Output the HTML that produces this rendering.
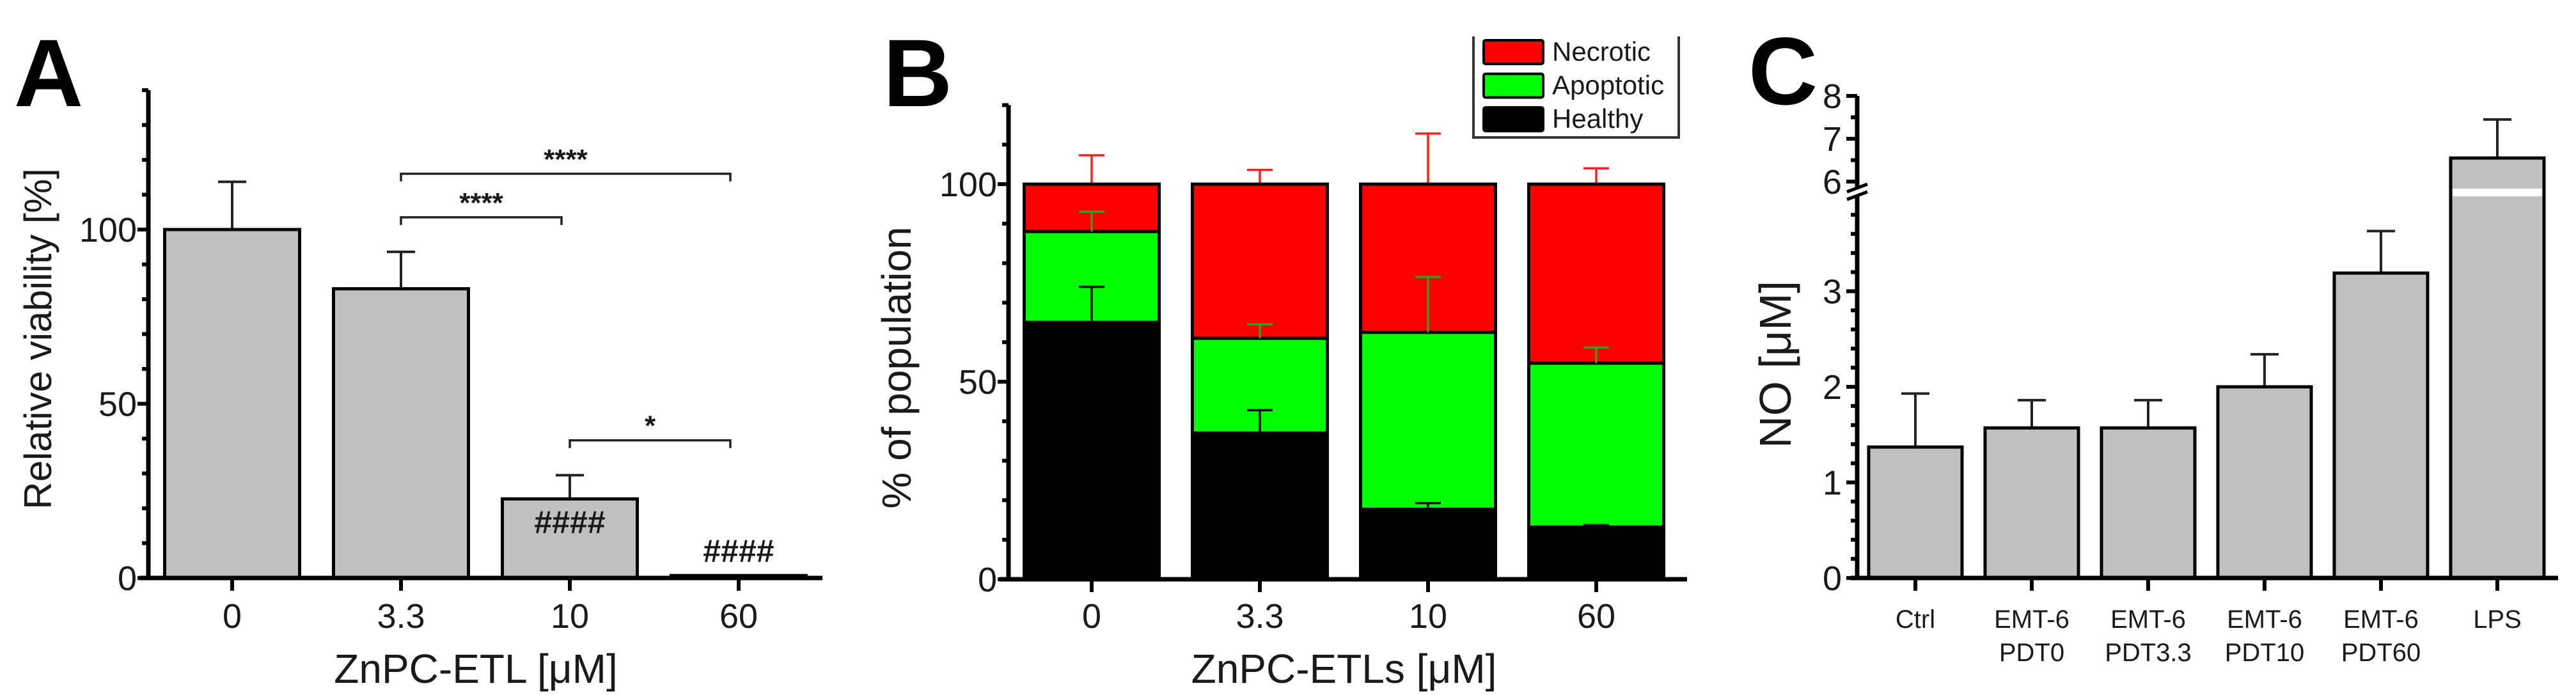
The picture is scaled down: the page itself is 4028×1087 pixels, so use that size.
<!DOCTYPE html>
<html><head><meta charset="utf-8"><style>
html,body{margin:0;padding:0;background:#fff;}
svg{display:block;font-family:"Liberation Sans",Arial,sans-serif;}
</style></head><body>
<svg id="fig" width="4028" height="1087" viewBox="0 0 4028 1087" xmlns="http://www.w3.org/2000/svg"></svg>
<script>
// Panel A data
const catsA = ["0","3.3","10","60"];
const valsA = [100, 83, 22.7, 0.7];
const errA = [13.7, 10.6, 6.8, 0];
const ticksA = [0, 50, 100];
// Panel B data
const catsB = ["0","3.3","10","60"];
const healthyB = [65, 37, 17.7, 13.2];
const apoptoticB = [23, 24, 44.8, 41.5];
const necroticB = [12, 39, 37.5, 45.3];
const errHealthyB = [9, 5.8, 1.6, 0.5];
const errApoB = [5, 3.5, 14, 4];
const errNecB = [7.3, 3.6, 12.8, 4];
const ticksB = [0, 50, 100];
const legendB = ["Necrotic","Apoptotic","Healthy"];
// Panel C data
const catsC = [["Ctrl"],["EMT-6","PDT0"],["EMT-6","PDT3.3"],["EMT-6","PDT10"],["EMT-6","PDT60"],["LPS"]];
const valsC = [1.37, 1.57, 1.57, 2.0, 3.19, 6.55];
const errC = [0.56, 0.29, 0.29, 0.34, 0.44, 0.9];
const ticksCLow = [0, 1, 2, 3];
const ticksCHigh = [6, 7, 8];

const svg = document.getElementById('fig');
const NS = 'http://www.w3.org/2000/svg';
function mk(tag, attrs, name, parent){
  const e = document.createElementNS(NS, tag);
  for (const k in attrs) e.setAttribute(k, attrs[k]);
  
  
  (parent||svg).appendChild(e);
  return e;
}
function line(x1,y1,x2,y2,w,c,name,p){return mk('line',{x1,y1,x2,y2,stroke:c||'#000','stroke-width':w},name,p);}
function text(x,y,s,size,name,opts,p){
  opts=opts||{};
  const t=mk('text',{x,y,'font-size':size,fill:opts.fill||'#1a1a1a','text-anchor':opts.anchor||'middle','font-weight':opts.weight||'normal'},name,p);
  if(opts.transform) t.setAttribute('transform',opts.transform);
  t.textContent=s;return t;
}

// ---------- Panel A ----------
(function(){
  const g = mk('g',{},'panel-a');
  const x0=232, yBase=904, ppu=5.45, ymax=140;
  const y = v => yBase - v*ppu;
  const xc = i => 363 + i*264;
  const bw = 211;
  text(76,166,'A',150,'panel-a-label',{weight:'bold',fill:'#000'},g);
  valsA.forEach((v,i)=>{
    const t = y(v+errA[i]);
    if(errA[i]>0){
      line(xc(i),y(v),xc(i),t,4,'#222','error-bar-a-'+i,g);
      line(xc(i)-22,t,xc(i)+22,t,4,'#222','error-cap-a-'+i,g);
    }
    mk('rect',{x:xc(i)-bw/2,y:y(v),width:bw,height:v*ppu,fill:'#c0c0c0',stroke:'#000','stroke-width':5},'bar-a-'+catsA[i],g);
  });
  line(x0,y(ymax),x0,yBase+3,7,'#000','y-axis-a',g);
  line(218,yBase,1286,yBase,7,'#000','x-axis-a',g);
  for(let v=0;v<=ymax;v+=10){
    const major = ticksA.includes(v);
    line(x0-(major?17:10),y(v),x0,y(v),6,'#000','y-tick-a',g);
  }
  ticksA.forEach(v=>text(214,y(v)+19,String(v),54,'y-tick-label-a',{anchor:'end'},g));
  catsA.forEach((c,i)=>{
    line(xc(i),yBase,xc(i),yBase+20,6,'#000','x-tick-a',g);
    text(xc(i),982,c,54,'x-tick-label-a',{},g);
  });
  text(xc(1.5)-15,1068,'ZnPC-ETL [\u03bcM]',64,'x-axis-title-a',{},g);
  text(0,0,'Relative viability [%]',60,'y-axis-title-a',{transform:'translate(80,530) rotate(-90)'},g);
  function bracket(i1,i2,yv,label,name){
    const yy=y(yv);
    mk('path',{d:`M${xc(i1)},${yy+12} V${yy} H${xc(i2)-13} V${yy+12}`,fill:'none',stroke:'#222','stroke-width':3.5},name,g);
    text((xc(i1)+xc(i2)-13)/2,yy-8,label,44,name+'-label',{weight:'bold'},g);
  }
  bracket(1,3,116,'****','bracket-3.3-60');
  bracket(1,2,103.5,'****','bracket-3.3-10');
  bracket(2,3,39.5,'*','bracket-10-60');
  text(xc(2),834,'####',50,'hash-label-10',{weight:'bold'},g);
  text(xc(3),879,'####',50,'hash-label-60',{weight:'bold'},g);
})();

// ---------- Panel B ----------
(function(){
  const g = mk('g',{},'panel-b');
  const x0=1577, yBase=906, ppu=6.18, ymax=120;
  const y = v => yBase - v*ppu;
  const xc = i => 1707 + i*263;
  const bw = 211;
  text(1435,166,'B',150,'panel-b-label',{weight:'bold',fill:'#000'},g);
  catsB.forEach((c,i)=>{
    const h=healthyB[i], a=apoptoticB[i], n=necroticB[i];
    const t1=h, t2=h+a, t3=h+a+n;
    const eb=(top,e,col,name)=>{
      line(xc(i),y(top),xc(i),y(top+e),3.5,col,name,g);
      line(xc(i)-20,y(top+e),xc(i)+20,y(top+e),3.5,col,name+'-cap',g);
    };
    eb(t3,errNecB[i],'#ff2020','error-necrotic-'+c);
    mk('rect',{x:xc(i)-bw/2,y:y(t3),width:bw,height:n*ppu,fill:'#ff0000',stroke:'#000','stroke-width':5},'bar-necrotic-'+c,g);
    mk('rect',{x:xc(i)-bw/2,y:y(t2),width:bw,height:a*ppu,fill:'#00ff00',stroke:'#000','stroke-width':5},'bar-apoptotic-'+c,g);
    eb(t2,errApoB[i],'#3a9a20','error-apoptotic-'+c);
    mk('rect',{x:xc(i)-bw/2,y:y(t1),width:bw,height:h*ppu,fill:'#000',stroke:'#000','stroke-width':5},'bar-healthy-'+c,g);
    eb(t1,errHealthyB[i],'#000','error-healthy-'+c);
  });
  line(x0,y(ymax),x0,yBase+3,7,'#000','y-axis-b',g);
  line(1563,yBase,2638,yBase,7,'#000','x-axis-b',g);
  for(let v=0;v<=ymax;v+=10){
    const major=ticksB.includes(v);
    line(x0-(major?17:10),y(v),x0,y(v),6,'#000','y-tick-b',g);
  }
  ticksB.forEach(v=>text(1559,y(v)+19,String(v),54,'y-tick-label-b',{anchor:'end'},g));
  catsB.forEach((c,i)=>{
    line(xc(i),yBase,xc(i),yBase+20,6,'#000','x-tick-b',g);
    text(xc(i),982,c,54,'x-tick-label-b',{},g);
  });
  text(xc(1.5),1068,'ZnPC-ETLs [\u03bcM]',64,'x-axis-title-b',{},g);
  text(0,0,'% of population',64,'y-axis-title-b',{transform:'translate(1424,575) rotate(-90)'},g);
  const lg=mk('g',{},'legend-b',g);
  mk('path',{d:'M2304,57 V215 H2625 V57',fill:'none',stroke:'#333','stroke-width':4},'legend-box',lg);
  const cols=['#ff0000','#00ff00','#000'];
  legendB.forEach((s,i)=>{
    const ry=63+i*52.5;
    mk('rect',{x:2320,y:ry,width:93,height:37,fill:cols[i],stroke:'#000','stroke-width':4,rx:3},'legend-swatch-'+s.toLowerCase(),lg);
    text(2427,ry+32,s,42,'legend-label-'+s.toLowerCase(),{anchor:'start'},lg);
  });
})();

// ---------- Panel C ----------
(function(){
  const g = mk('g',{},'panel-c');
  const x0=2904, yBase=904, ppuLow=149.5;
  const yTop6=284, ppuHigh=67;
  const y = v => v<=4 ? yBase - v*ppuLow : yTop6 - (v-6)*ppuHigh;
  const xc = i => 2995 + i*182;
  const bw = 146;
  text(2788,163,'C',150,'panel-c-label',{weight:'bold',fill:'#000'},g);
  valsC.forEach((v,i)=>{
    const t=y(v+errC[i]);
    line(xc(i),y(v),xc(i),t,4,'#222','error-bar-c-'+i,g);
    line(xc(i)-22,t,xc(i)+22,t,4,'#222','error-cap-c-'+i,g);
    mk('rect',{x:xc(i)-bw/2,y:y(v),width:bw,height:yBase-y(v),fill:'#c0c0c0',stroke:'#000','stroke-width':5},'bar-c-'+i,g);
    if(v>4) mk('rect',{x:xc(i)-bw/2+3,y:295,width:bw-6,height:12,fill:'#fff'},'axis-break-gap-bar',g);
  });
  line(x0,150,x0,293,7,'#000','y-axis-c-upper',g);
  line(x0,306,x0,yBase+3,7,'#000','y-axis-c-lower',g);
  line(2888,300,2920,288,5,'#000','axis-break-mark',g);
  line(2888,312,2920,300,5,'#000','axis-break-mark',g);
  line(2893,yBase,4000,yBase,7,'#000','x-axis-c',g);
  for(let k=0;k<=19;k++){
    const v=k*0.2; const major=ticksCLow.some(t=>Math.abs(t-v)<1e-6);
    line(x0-(major?17:10),y(v),x0,y(v),6,'#000','y-tick-c',g);
  }
  for(let v=6;v<=8.001;v+=0.5){
    const major=ticksCHigh.includes(v);
    line(x0-(major?17:10),y(v),x0,y(v),6,'#000','y-tick-c',g);
  }
  ticksCLow.forEach(v=>text(2880,y(v)+19,String(v),54,'y-tick-label-c',{anchor:'end'},g));
  ticksCHigh.forEach(v=>text(2880,y(v)+19,String(v),54,'y-tick-label-c',{anchor:'end'},g));
  catsC.forEach((c,i)=>{
    line(xc(i),yBase,xc(i),yBase+20,6,'#000','x-tick-c',g);
    c.forEach((s,j)=>text(xc(i),982+j*52,s,40,'x-tick-label-c',{},g));
  });
  text(0,0,'NO [\u03bcM]',70,'y-axis-title-c',{transform:'translate(2800,570) rotate(-90)'},g);
})();
</script>
</body></html>
